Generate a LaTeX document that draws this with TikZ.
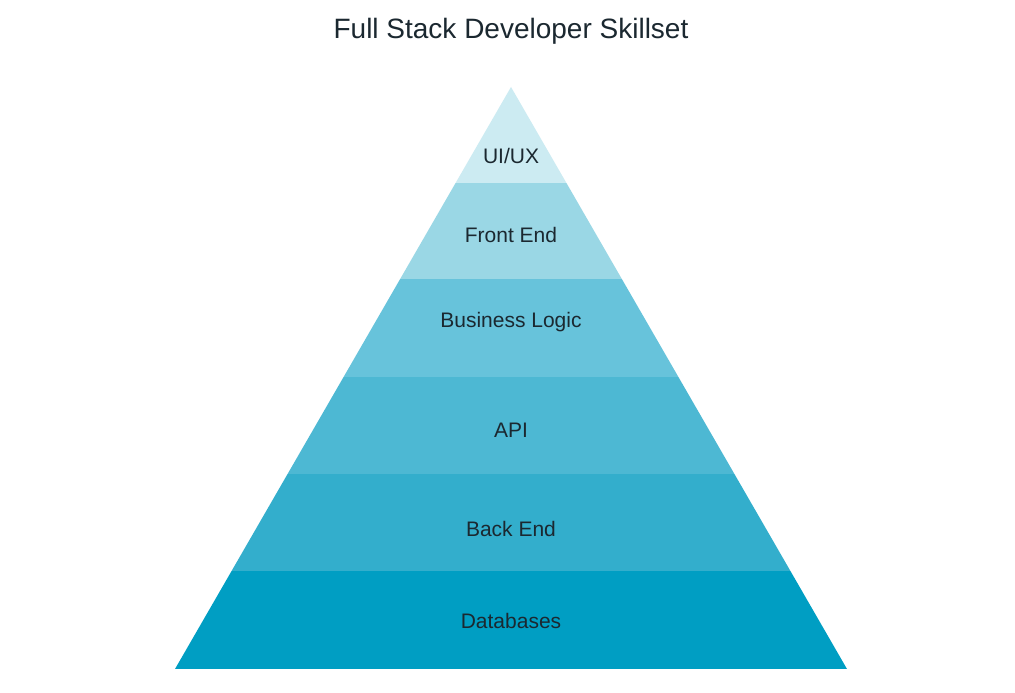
\documentclass[tikz,border=0pt]{standalone}
\usepackage{fontspec}
\setmainfont{Liberation Sans}
\definecolor{c1}{HTML}{CCEBF2}
\definecolor{c2}{HTML}{9AD7E5}
\definecolor{c3}{HTML}{67C3DB}
\definecolor{c4}{HTML}{4DB8D3}
\definecolor{c5}{HTML}{33AECC}
\definecolor{c6}{HTML}{009EC3}
\definecolor{txt}{HTML}{1B2830}
\begin{document}
\begin{tikzpicture}[x=1pt,y=-1pt,
  lbl/.style={text=txt,font=\fontsize{21}{24}\selectfont,inner sep=0pt},
  ttl/.style={text=txt,font=\fontsize{28}{32}\selectfont,inner sep=0pt}]
\useasboundingbox (0,0) rectangle (1015,693);
\fill[white] (0,0) rectangle (1015,693);
\begin{scope}
\clip (511,87) -- (847,669) -- (175,669) -- cycle;
\fill[c1] (150,80) rectangle (870,183);
\fill[c2] (150,183) rectangle (870,279);
\fill[c3] (150,279) rectangle (870,377);
\fill[c4] (150,377) rectangle (870,474);
\fill[c5] (150,474) rectangle (870,571);
\fill[c6] (150,571) rectangle (870,669);
\end{scope}
\node[ttl] (title) at (511,31) {Full Stack Developer Skillset};
\node[lbl] (uiux) at (511,156) {UI/UX};
\node[lbl] (front) at (511,235) {Front End};
\node[lbl] (logic) at (511,322) {Business Logic};
\node[lbl] (api) at (511,430) {API};
\node[lbl] (back) at (511,529) {Back End};
\node[lbl] (db) at (511,621) {Databases};
\end{tikzpicture}
\end{document}
